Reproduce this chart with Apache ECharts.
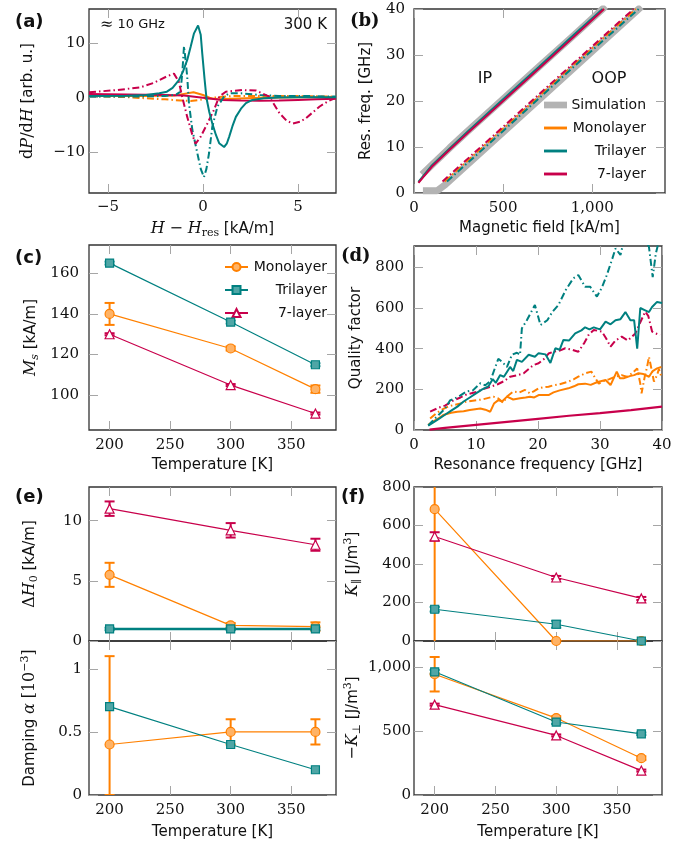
<!DOCTYPE html>
<html>
<head>
<meta charset="utf-8">
<script src="https://cdn.jsdelivr.net/npm/echarts@6/dist/echarts.min.js"></script>
<style>
  html, body { margin: 0; padding: 0; background: #fff; }
  #chart { width: 688px; height: 845px; }
</style>
</head>
<body>
<div id="chart"></div>
<script>
// ---------- (a) spectra at ~10 GHz, [H - Hres, dP/dH] ----------
const aMonoSolid = [[-6, 0.3], [-3, 0.3], [-1.5, 0.4], [-1, 0.7], [-0.5, 1.0], [0, 0.5], [0.4, -0.1], [0.8, -0.3], [1.5, -0.2], [3, 0], [5, 0.1], [7, 0.1]]
const aMonoDash = [[-6, 0.3], [-4, 0.1], [-3, -0.1], [-2, -0.3], [-1.2, -0.5], [-0.65, -0.6], [-0.2, -0.4], [0.3, -0.1], [0.8, 0.1], [1.5, 0.3], [3, 0.3], [5, 0.3], [7, 0.2]]
const aTriSolid = [[-6, 0.3], [-4, 0.35], [-3, 0.5], [-2.3, 0.8], [-1.9, 1.1], [-1.6, 1.8], [-1.27, 3.2], [-1.05, 4.8], [-0.83, 6.9], [-0.65, 9.3], [-0.48, 11.7], [-0.26, 13.2], [-0.12, 11.5], [-0.04, 8.1], [0.08, 3.5], [0.18, 0], [0.33, -2.6], [0.49, -4.7], [0.68, -6.8], [0.85, -8.3], [1.11, -9.0], [1.25, -8.4], [1.38, -7.1], [1.55, -5.2], [1.73, -3.5], [2.0, -2.0], [2.26, -1.0], [2.6, -0.4], [3.2, -0.1], [4, 0.05], [5, 0.1], [7, 0.1]]
const aTriDash = [[-6, 0.2], [-4, 0.2], [-2, 0.3], [-1.4, 0.6], [-1.18, 1.1], [-1.08, 5], [-1.0, 9.4], [-0.92, 7], [-0.83, 3.8], [-0.74, -1.0], [-0.56, -5.9], [-0.3, -10.1], [-0.12, -13], [0.05, -14.5], [0.18, -13], [0.32, -10.1], [0.49, -5.3], [0.76, -1.6], [1.11, 0.2], [1.38, 0.8], [2, 0.8], [3, 0.5], [4, 0.3], [5.5, 0.3], [7, 0.2]]
const a7Solid = [[-6, 0.7], [-4, 0.6], [-2, 0.5], [-1, 0.4], [0, 0], [1, -0.4], [2, -0.5], [3, -0.55], [4, -0.5], [5, -0.4], [6, -0.3], [7, -0.2]]
const a7Dash = [[-6, 1.0], [-4.5, 1.4], [-3.3, 1.9], [-2.6, 2.7], [-1.9, 3.9], [-1.53, 4.4], [-1.27, 2.9], [-1.1, 0.2], [-0.83, -3.5], [-0.56, -6.8], [-0.39, -8.4], [-0.12, -7.1], [0.23, -4.7], [0.58, -2.2], [0.85, 0.2], [1.2, 1.1], [2.08, 1.4], [2.8, 1.3], [3.49, 0.2], [4.02, -2.8], [4.4, -4.2], [4.73, -4.7], [5.1, -4.4], [5.43, -3.7], [6.14, -1.6], [6.6, -0.6], [7, 0]]

// ---------- (b) resonance frequency vs field, [H, f] ----------
const bSimIP = [[45, 4.0], [100, 6.1], [200, 9.8], [300, 13.4], [500, 20.4], [700, 27.4], [900, 34.4], [1075, 40.6]]
const bSimOOP = [[50, 0.5], [130, 0.5], [175, 1.8], [500, 13.2], [900, 27.3], [1275, 40.5]]
const bMonoIP = [[25, 2.3], [100, 5.9], [200, 9.6], [300, 13.2], [500, 20.2], [700, 27.2], [900, 34.3], [1065, 40]]
const bTriIP = [[25, 2.4], [100, 6.0], [200, 9.7], [300, 13.3], [500, 20.4], [700, 27.4], [900, 34.5], [1058, 40]]
const b7IP = [[25, 2.2], [100, 5.7], [200, 9.4], [300, 13.0], [500, 20.0], [700, 27.0], [900, 34.1], [1066, 40]]
const bMonoOOP = [[172, 2.5], [500, 14.0], [900, 28.0], [1245, 40]]
const bTriOOP = [[185, 2.5], [500, 13.5], [900, 27.6], [1260, 40]]
const b7OOP = [[160, 2.5], [500, 14.4], [900, 28.4], [1232, 40]]

// ---------- (c), (e), (f) vs temperature ----------
const temps = [200, 300, 370]
const msMono = [140, 123, 103]
const msMonoErr = [[5.4, 5.4], [1, 1], [1.8, 1.8]]
const msTri = [165, 136, 115]
const msTriErr = [[0.7, 0.7], [0.7, 0.7], [0.7, 0.7]]
const ms7 = [130, 105, 91]
const ms7Err = [[0.5, 0.5], [0.5, 0.5], [0.5, 0.5]]

const dhMono = [5.5, 1.3, 1.2]
const dhMonoErr = [[1, 1], [0.2, 0.2], [0.35, 0.35]]
const dhTri = [1, 1, 1]
const dhTriErr = [[0.1, 0.1], [0.1, 0.1], [0.1, 0.1]]
const dh7 = [11.0, 9.2, 8.0]
const dh7Err = [[0.6, 0.6], [0.6, 0.6], [0.5, 0.5]]

const alMono = [0.4, 0.5, 0.5]
const alMonoErr = [[0.4, 0.7], [0.1, 0.1], [0.1, 0.1]]
const alTri = [0.7, 0.4, 0.2]

const kpMono = [685, 0, 0]
const kpMonoErr = [[785, 785], [0, 0], [0, 0]]
const kpTri = [165, 87, 0]
const kpTriErr = [[12, 12], [18, 18], [5, 5]]
const kp7 = [543, 330, 221]
const kp7Err = [[22, 22], [8, 8], [8, 8]]

const koMono = [945, 602, 288]
const koMonoErr = [[135, 135], [15, 15], [15, 15]]
const koTri = [964, 571, 479]
const koTriErr = [[15, 15], [15, 15], [10, 10]]
const ko7 = [707, 466, 191]
const ko7Err = [[8, 8], [8, 8], [8, 8]]

// ---------- (d) quality factor, [f, Q] ----------
const dTriSolid = [[2.3, 22], [3, 35], [4, 55], [5, 75], [6, 95], [7, 115], [8, 140], [9, 160], [10, 180], [11, 200], [12, 215], [12.7, 250], [13.2, 232], [13.9, 270], [14.5, 262], [15.5, 310], [16, 290], [16.6, 345], [17.4, 335], [18.5, 370], [19.5, 360], [20.1, 378], [21.2, 372], [22, 330], [22.8, 402], [23.5, 395], [24.1, 443], [25, 440], [26, 475], [27, 490], [27.6, 505], [28.3, 495], [29, 505], [30, 495], [30.9, 533], [31.7, 520], [32.5, 540], [33.3, 545], [34.1, 580], [34.9, 540], [35.5, 540], [36, 400], [36.5, 600], [37.2, 590], [37.9, 580], [38.4, 605], [39.2, 630], [40, 625]]
const dTriDash = [[2.3, 22], [3, 45], [4, 75], [5, 105], [5.8, 145], [6.9, 160], [7.5, 170], [8.5, 190], [9.5, 195], [10.7, 230], [11.5, 220], [12.3, 240], [13, 300], [13.6, 350], [14.2, 335], [15, 310], [15.8, 370], [16.6, 380], [17.1, 370], [17.4, 500], [18.2, 540], [19.5, 615], [20.4, 516], [21.5, 540], [22.3, 580], [23.3, 615], [24.5, 690], [25.7, 746], [26.5, 762], [27.6, 705], [28.4, 705], [29.5, 656], [30.3, 700], [31.1, 762], [32, 844], [32.5, 893], [33.3, 861], [34, 950], [35, 980], [36, 990], [37, 960], [37.9, 900], [38.5, 752], [39, 867], [39.5, 930], [40, 1000]]
const d7Solid = [[2.5, 2], [5, 10], [10, 25], [15, 40], [20, 55], [25, 70], [30, 83], [35, 98], [40, 115]]
const d7Dash = [[2.6, 90], [4, 110], [5, 120], [6.4, 146], [7.5, 160], [8.5, 175], [10.1, 187], [11, 200], [12.3, 212], [13.5, 225], [14.5, 240], [15.5, 262], [16.5, 268], [17.7, 279], [18.5, 300], [19.3, 320], [20.1, 328], [21, 350], [21.7, 376], [22.5, 385], [23.5, 390], [24.4, 402], [25.5, 395], [26.5, 385], [27.5, 430], [28.2, 470], [29, 492], [30.3, 484], [31, 450], [31.7, 410], [32.5, 440], [33.5, 459], [34.5, 440], [35.7, 475], [36.5, 530], [37.3, 582], [37.8, 560], [38.4, 484], [39, 475], [39.7, 467]]
const dMonoSolid = [[2.3, 25], [3, 40], [4, 58], [4.7, 74], [6, 85], [7, 90], [8, 92], [9, 98], [10.7, 106], [11.5, 100], [12.3, 90], [12.9, 130], [13.6, 147], [14.2, 140], [15, 164], [16, 150], [17.1, 156], [18, 160], [18.7, 164], [19.4, 160], [20.1, 172], [21.7, 172], [22.5, 185], [23.5, 195], [24.9, 205], [25.8, 215], [26.5, 225], [27.6, 228], [28.5, 222], [29.5, 235], [30.9, 246], [31.7, 221], [32.7, 287], [33.2, 255], [33.8, 254], [34.8, 265], [35.5, 270], [36.2, 279], [37, 275], [37.9, 262], [38.5, 290], [39.2, 303], [39.9, 310]]
const dMonoDash = [[2.6, 57], [3.5, 80], [4.5, 100], [5.5, 115], [6.4, 123], [7.5, 130], [8.5, 140], [10.1, 147], [11, 150], [12, 158], [12.8, 164], [13.6, 155], [14.4, 134], [15, 165], [16, 189], [17, 185], [17.9, 197], [18.7, 180], [19.3, 190], [20.1, 205], [20.8, 210], [21.7, 213], [22.5, 220], [23.5, 225], [24.9, 238], [25.8, 250], [26.5, 262], [27.6, 279], [28.6, 287], [29.8, 228], [30.5, 240], [31.5, 250], [32.5, 262], [33.5, 270], [34.3, 262], [35.2, 279], [36, 303], [36.5, 228], [36.7, 180], [37.2, 260], [37.6, 311], [37.9, 360], [38.3, 300], [38.7, 238], [39.2, 270], [39.5, 300], [39.9, 262]]

// ---------- tick labels ----------
const aTicksX = [-5, 0, 5]
const aTicksY = [-10, 0, 10]
const bTicksX = [0, 500, 1000]
const bTicksY = [0, 10, 20, 30, 40]
const tempTicks = [200, 250, 300, 350]
const cTicksY = [100, 120, 140, 160]
const dTicksX = [0, 10, 20, 30, 40]
const dTicksY = [0, 200, 400, 600, 800]
const eTopTicks = [0, 5, 10]
const eBotTicks = [0, 0.5, 1]
const fTopTicks = [0, 200, 400, 600, 800]
const fBotTicks = [0, 500, 1000]

const ORANGE = '#ff8000'
const TEAL = '#008080'
const CRIMSON = '#c8004b'
const GRAY = '#b3b3b3'
const SERIF = 'DejaVu Serif'
const SANS = 'DejaVu Sans'
const DASHDOT = [7, 3, 1.5, 3]

function fmt(v) {
  const s = String(Math.abs(v)).replace(/\B(?=(\d{3})+(?!\d))/g, ',')
  return (v < 0 ? '\u2212' : '') + s
}

const RICH = {
  i: { fontFamily: SERIF, fontStyle: 'italic', fontSize: 16, lineHeight: 20, color: '#111' },
  m: { fontFamily: SERIF, fontSize: 16, lineHeight: 20, color: '#111' },
  sub: { fontFamily: SERIF, fontSize: 11, lineHeight: 11, verticalAlign: 'bottom', color: '#111' },
  subi: { fontFamily: SERIF, fontStyle: 'italic', fontSize: 11, lineHeight: 11, verticalAlign: 'bottom', color: '#111' },
  sup: { fontFamily: SERIF, fontSize: 11, lineHeight: 9, verticalAlign: 'top', color: '#111' }
}

// grid rectangles: a, b, c, d, e-top, e-bottom, f-top, f-bottom
const grids = [
  { left: 89, top: 9, width: 247, height: 184 },
  { left: 414, top: 9, width: 251, height: 184 },
  { left: 89, top: 245, width: 247, height: 185 },
  { left: 414, top: 246, width: 248, height: 184 },
  { left: 89, top: 487, width: 247, height: 154 },
  { left: 89, top: 641, width: 247, height: 154 },
  { left: 414, top: 487, width: 248, height: 154 },
  { left: 414, top: 641, width: 248, height: 154 }
].map(g => Object.assign({ show: true, borderColor: '#333', borderWidth: 1.3, backgroundColor: 'transparent', outerBoundsMode: 'none' }, g))

// one pair of axes per side, the second only mirrors the ticks
function axisPair(dim, gi, min, max, ticks, labels, name, gap, margin) {
  const common = {
    type: 'value', gridIndex: gi, min: min, max: max,
    axisLine: { show: false, onZero: false },
    splitLine: { show: false },
    axisTick: { show: true, inside: true, length: 9, customValues: ticks, lineStyle: { color: '#a6a6a6', width: 1 } }
  }
  const main = Object.assign({}, common, {
    position: dim === 'x' ? 'bottom' : 'left',
    axisLabel: { show: labels, customValues: ticks, formatter: fmt, fontFamily: SERIF, fontSize: 15, color: '#111', margin: margin },
    name: name || '', nameLocation: 'middle', nameGap: gap, nameRotate: dim === 'y' ? 90 : 0,
    nameTextStyle: { fontFamily: SANS, fontSize: 15, lineHeight: 20, color: '#111', rich: RICH }
  })
  const mirror = Object.assign({}, common, { position: dim === 'x' ? 'top' : 'right', axisLabel: { show: false } })
  return [main, mirror]
}

const xAxis = [].concat(
  axisPair('x', 0, -6, 7, aTicksX, true, '{i|H} {m|\u2212} {i|H}{sub|res} [kA/m]', 26, 7),
  axisPair('x', 1, 0, 1408, bTicksX, true, 'Magnetic field [kA/m]', 25, 8),
  axisPair('x', 2, 183, 387, tempTicks, true, 'Temperature [K]', 25, 8),
  axisPair('x', 3, 0, 40, dTicksX, true, 'Resonance frequency [GHz]', 25, 8),
  axisPair('x', 4, 183, 387, tempTicks, false, '', 0, 8),
  axisPair('x', 5, 183, 387, tempTicks, true, 'Temperature [K]', 27, 8),
  axisPair('x', 6, 183, 387, tempTicks, false, '', 0, 8),
  axisPair('x', 7, 183, 387, tempTicks, true, 'Temperature [K]', 27, 8)
)
const yAxis = [].concat(
  axisPair('y', 0, -17.4, 16.2, aTicksY, true, '{m|d}{i|P}{m|/d}{i|H} [arb. u.]', 51, 4),
  axisPair('y', 1, 0, 40, bTicksY, true, 'Res. freq. [GHz]', 38, 9),
  axisPair('y', 2, 82.9, 173.9, cTicksY, true, '{i|M}{subi|s} [kA/m]', 48, 10),
  axisPair('y', 3, 0, 905, dTicksY, true, 'Quality factor', 48, 10),
  axisPair('y', 4, 0, 12.8, eTopTicks, true, '{m|\u0394}{i|H}{sub|0} [kA/m]', 49, 7),
  axisPair('y', 5, 0, 1.22, eBotTicks, true, 'Damping {i|\u03b1} {m|[10}{sup|\u22123}{m|]}', 49, 7),
  axisPair('y', 6, 0, 800, fTopTicks, true, '{i|K}{sub|\u2225} [J/m{sup|3}]', 51, 3),
  axisPair('y', 7, 0, 1205, fBotTicks, true, '{m|\u2212}{i|K}{sub|\u22a5} [J/m{sup|3}]', 51, 3)
)

function curve(name, gi, data, color, dashed, width, z) {
  return {
    name: name, type: 'line', xAxisIndex: 2 * gi, yAxisIndex: 2 * gi, data: data,
    symbol: 'none', color: color, z: z || 2, silent: true,
    lineStyle: { color: color, width: width || 2, type: dashed ? DASHDOT : 'solid' }
  }
}

const MARK = {
  mono: { symbol: 'circle', size: 9, fill: '#ffb366', stroke: ORANGE },
  tri: { symbol: 'rect', size: 8, fill: '#4fa6a6', stroke: TEAL },
  seven: { symbol: 'triangle', size: 9, fill: '#ffffff', stroke: CRIMSON }
}

function markers(name, gi, vals, kind, color, width) {
  const m = MARK[kind]
  return {
    name: name, type: 'line', xAxisIndex: 2 * gi, yAxisIndex: 2 * gi,
    data: temps.map((t, i) => [t, vals[i]]),
    symbol: m.symbol, symbolSize: m.size, showSymbol: true, color: color, z: 4, silent: true,
    itemStyle: { color: m.fill, borderColor: m.stroke, borderWidth: 1.2 },
    lineStyle: { color: color, width: width || 1.2 }
  }
}

function errRender(params, api) {
  const x = api.value(0)
  const p1 = api.coord([x, api.value(1)])
  const p2 = api.coord([x, api.value(2)])
  const c = 5
  const st = { stroke: api.visual('color'), lineWidth: 2 }
  return {
    type: 'group', children: [
      { type: 'line', shape: { x1: p1[0], y1: p1[1], x2: p2[0], y2: p2[1] }, style: st },
      { type: 'line', shape: { x1: p1[0] - c, y1: p1[1], x2: p1[0] + c, y2: p1[1] }, style: st },
      { type: 'line', shape: { x1: p2[0] - c, y1: p2[1], x2: p2[0] + c, y2: p2[1] }, style: st }
    ]
  }
}

function errors(gi, vals, errs, color) {
  return {
    type: 'custom', xAxisIndex: 2 * gi, yAxisIndex: 2 * gi, clip: true, z: 3, silent: true,
    color: color, itemStyle: { color: color },
    renderItem: errRender,
    encode: { x: 0, y: [1, 2] },
    data: temps.map((t, i) => [t, vals[i] - errs[i][0], vals[i] + errs[i][1]])
  }
}

const series = [
  // (a)
  curve('aMonoDash', 0, aMonoDash, ORANGE, true),
  curve('aMonoSolid', 0, aMonoSolid, ORANGE, false),
  curve('a7Solid', 0, a7Solid, CRIMSON, false),
  curve('aTriDash', 0, aTriDash, TEAL, true),
  curve('a7Dash', 0, a7Dash, CRIMSON, true),
  curve('aTriSolid', 0, aTriSolid, TEAL, false),
  // (b)
  curve('Simulation', 1, bSimIP, GRAY, false, 7, 1),
  curve('Simulation', 1, bSimOOP, GRAY, false, 7, 1),
  curve('Monolayer', 1, bMonoIP, ORANGE, false, 2),
  curve('Trilayer', 1, bTriIP, TEAL, false, 2),
  curve('7-layer', 1, b7IP, CRIMSON, false, 2),
  curve('Monolayer', 1, bMonoOOP, ORANGE, true, 2),
  curve('Trilayer', 1, bTriOOP, TEAL, true, 2),
  curve('7-layer', 1, b7OOP, CRIMSON, true, 2),
  // (c)
  errors(2, msMono, msMonoErr, ORANGE),
  errors(2, msTri, msTriErr, TEAL),
  errors(2, ms7, ms7Err, CRIMSON),
  markers('Monolayer ', 2, msMono, 'mono', ORANGE),
  markers('Trilayer ', 2, msTri, 'tri', TEAL),
  markers('7-layer ', 2, ms7, 'seven', CRIMSON),
  // (d)
  curve('d7Solid', 3, d7Solid, CRIMSON, false, 2.2),
  curve('dMonoDash', 3, dMonoDash, ORANGE, true),
  curve('dMonoSolid', 3, dMonoSolid, ORANGE, false),
  curve('d7Dash', 3, d7Dash, CRIMSON, true),
  curve('dTriDash', 3, dTriDash, TEAL, true),
  curve('dTriSolid', 3, dTriSolid, TEAL, false),
  // (e) top
  errors(4, dh7, dh7Err, CRIMSON),
  errors(4, dhMono, dhMonoErr, ORANGE),
  errors(4, dhTri, dhTriErr, TEAL),
  markers('e7', 4, dh7, 'seven', CRIMSON),
  markers('eMono', 4, dhMono, 'mono', ORANGE),
  markers('eTri', 4, dhTri, 'tri', TEAL, 2.5),
  // (e) bottom
  errors(5, alMono, alMonoErr, ORANGE),
  markers('eaMono', 5, alMono, 'mono', ORANGE),
  markers('eaTri', 5, alTri, 'tri', TEAL),
  // (f) top
  errors(6, kpMono, kpMonoErr, ORANGE),
  errors(6, kpTri, kpTriErr, TEAL),
  errors(6, kp7, kp7Err, CRIMSON),
  markers('fMono', 6, kpMono, 'mono', ORANGE),
  markers('fTri', 6, kpTri, 'tri', TEAL),
  markers('f7', 6, kp7, 'seven', CRIMSON),
  // (f) bottom
  errors(7, koMono, koMonoErr, ORANGE),
  errors(7, koTri, koTriErr, TEAL),
  errors(7, ko7, ko7Err, CRIMSON),
  markers('foMono', 7, koMono, 'mono', ORANGE),
  markers('foTri', 7, koTri, 'tri', TEAL),
  markers('fo7', 7, ko7, 'seven', CRIMSON)
]

const legendText = {
  fontFamily: SANS, fontSize: 14, color: '#111',
  rich: { r: { width: 74, align: 'right', fontFamily: SANS, fontSize: 14, color: '#111' } }
}

const legend = [
  {
    data: [
      { name: 'Simulation', icon: 'path://M0,0H24V7H0Z' },
      { name: 'Monolayer', icon: 'path://M0,0H24V3H0Z' },
      { name: 'Trilayer', icon: 'path://M0,0H24V3H0Z' },
      { name: '7-layer', icon: 'path://M0,0H24V3H0Z' }
    ],
    orient: 'vertical', left: 544, top: 98, itemWidth: 23, itemHeight: 8, itemGap: 9,
    padding: 0, selectedMode: false,
    formatter: n => '{r|' + n + '}',
    textStyle: legendText
  },
  {
    data: ['Monolayer ', 'Trilayer ', '7-layer '],
    orient: 'vertical', left: 224, top: 260, itemWidth: 23, itemHeight: 10, itemGap: 9,
    padding: 0, selectedMode: false,
    formatter: n => '{r|' + n.trim() + '}',
    textStyle: legendText
  }
]

function label(text, x, y, font, align) {
  return { type: 'text', x: x, y: y, silent: true, style: { text: text, font: font, fill: '#111', align: align || 'left', verticalAlign: 'middle' } }
}

const graphic = [
  label('(a)', 15, 22, 'bold 18px "DejaVu Sans"'),
  label('(b)', 350, 21, 'bold 18px "DejaVu Serif"'),
  label('(c)', 15, 258, 'bold 18px "DejaVu Sans"'),
  label('(d)', 341, 256, 'bold 18px "DejaVu Serif"'),
  label('(e)', 15, 497, 'bold 18px "DejaVu Sans"'),
  label('(f)', 341, 497, 'bold 18px "DejaVu Sans"'),
  label('300 K', 327, 25, '15px "DejaVu Sans"', 'right'),
  label('IP', 485, 79, '16px "DejaVu Sans"', 'center'),
  label('OOP', 609, 79, '16px "DejaVu Sans"', 'center'),
  {
    type: 'text', x: 100, y: 25, silent: true,
    style: {
      text: '{m|\u2248} 10 GHz', font: '13px "DejaVu Sans"', fill: '#111', verticalAlign: 'middle',
      rich: { m: { fontFamily: SERIF, fontSize: 16, color: '#111' } }
    }
  }
]

const chart = echarts.init(document.getElementById('chart'), null, { renderer: 'canvas' })
chart.setOption({
  animation: false,
  backgroundColor: '#fff',
  grid: grids,
  xAxis: xAxis,
  yAxis: yAxis,
  legend: legend,
  graphic: graphic,
  series: series
})
</script>
</body>
</html>
